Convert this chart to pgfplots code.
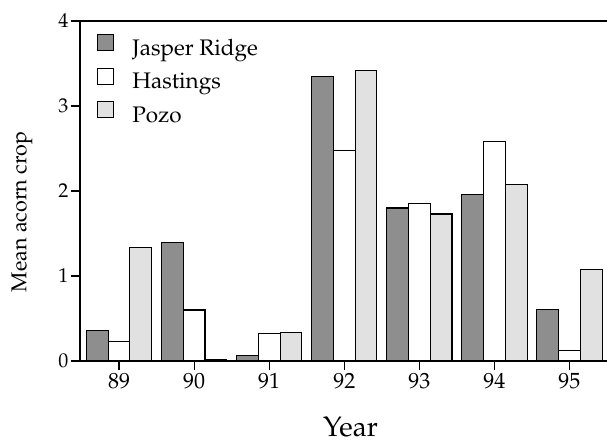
\documentclass[border=0pt]{standalone}
\usepackage[T1]{fontenc}
\usepackage{mathpazo}
\usepackage{pgfplots}
\pgfplotsset{compat=1.18}
\definecolor{jr}{RGB}{142,142,142}
\definecolor{pz}{RGB}{225,225,225}
\begin{document}
\begin{tikzpicture}
\begin{axis}[
  at={(0pt,0pt)}, anchor=south west,
  scale only axis, width=527pt, height=340pt,
  ybar,
  xmin=-0.52, xmax=6.5, ymin=0, ymax=4,
  axis x line*=box, axis y line*=left,
  axis line style={-, line width=1.2pt},
  xtick={0,1,2,3,4,5,6}, xticklabels={89,90,91,92,93,94,95},
  ytick={0,1,2,3,4},
  /pgf/number format/assume math mode=true,
  xtick pos=bottom, ytick pos=left,
  tick align=outside, major tick length=9pt,
  tick style={line width=1.2pt, black},
  xticklabel style={font=\fontsize{22}{22}\selectfont},
  yticklabel style={font=\fontsize{20}{20}\selectfont, xshift=1pt},
  xlabel={Year}, ylabel={Mean acorn crop},
  xlabel style={at={([xshift=7pt,yshift=-75pt]axis description cs:0.5,0)}, anchor=base, font=\fontsize{28}{30}\selectfont},
  ylabel style={at={([xshift=-58pt,yshift=-21pt]axis description cs:0,0.5)}, anchor=center, font=\fontsize{21.5}{24}\selectfont},
  bar width=0.29,
  legend style={at={([xshift=17pt,yshift=-13pt]axis description cs:0,1)}, anchor=north west, draw=none, fill=none,
    font=\fontsize{22.5}{24}\selectfont, row sep=7.5pt, inner sep=0pt,
    nodes={inner sep=0pt, text height=16pt, text depth=5pt, font=\fontsize{22.5}{24}\selectfont}},
  legend cell align=left,
  legend image code/.code={\draw[#1, line width=1.1pt] (0pt,-1pt) rectangle (16pt,15pt); \path (34pt,0pt);},
]
\addplot[fill=jr, draw=black, line width=1.1pt, bar shift=-0.29] coordinates {(0,0.36) (1,1.39) (2,0.06) (3,3.35) (4,1.80) (5,1.96) (6,0.61)};
\addplot[fill=white, draw=black, line width=1.1pt, bar shift=0] coordinates {(0,0.23) (1,0.60) (2,0.32) (3,2.48) (4,1.85) (5,2.58) (6,0.12)};
\addplot[fill=pz, draw=black, line width=1.1pt, bar shift=0.29] coordinates {(0,1.34) (1,0.02) (2,0.34) (3,3.42) (4,1.73) (5,2.08) (6,1.08)};
\legend{Jasper Ridge, Hastings, Pozo}
\end{axis}
\pgfresetboundingbox
\path[use as bounding box] (-80pt,-84pt) rectangle (527pt,361pt);
\end{tikzpicture}
\end{document}
